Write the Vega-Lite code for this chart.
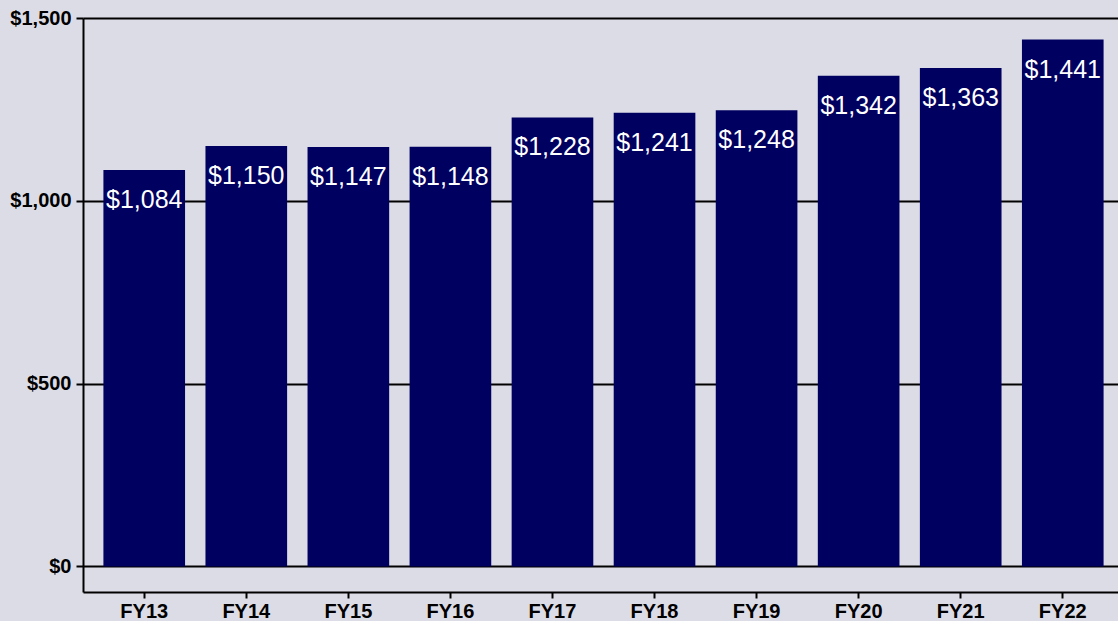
{
  "$schema": "https://vega.github.io/schema/vega-lite/v6.json",
  "width": 1041,
  "height": 574,
  "autosize": "none",
  "padding": {"left": 83, "top": 18, "right": 0, "bottom": 29},
  "background": "#dcdce6",
  "config": {
    "view": {"stroke": null},
    "axis": {
      "labelFont": "Liberation Sans",
      "labelFontWeight": "bold",
      "labelFontSize": 20,
      "labelColor": "#000000",
      "domainColor": "#000000",
      "domainWidth": 2,
      "tickColor": "#000000",
      "tickWidth": 2,
      "tickSize": 7,
      "gridColor": "#000000",
      "gridWidth": 2,
      "gridOpacity": 1,
      "title": null
    }
  },
  "data": {
    "values": [
      {"year": "FY13", "value": 1084},
      {"year": "FY14", "value": 1150},
      {"year": "FY15", "value": 1147},
      {"year": "FY16", "value": 1148},
      {"year": "FY17", "value": 1228},
      {"year": "FY18", "value": 1241},
      {"year": "FY19", "value": 1248},
      {"year": "FY20", "value": 1342},
      {"year": "FY21", "value": 1363},
      {"year": "FY22", "value": 1441}
    ]
  },
  "encoding": {
    "x": {
      "field": "year",
      "type": "ordinal",
      "sort": null,
      "scale": {"paddingInner": 0.2, "paddingOuter": 0.2},
      "axis": {"labelAngle": 0, "labelPadding": 3, "tickSize": 6}
    }
  },
  "layer": [
    {
      "mark": {"type": "bar", "color": "#000060"},
      "encoding": {
        "y": {
          "field": "value",
          "type": "quantitative",
          "scale": {"domain": [-70, 1500], "nice": false, "zero": false},
          "axis": {
            "values": [0, 500, 1000, 1500],
            "format": "$,.0f",
            "grid": true,
            "labelPadding": 5
          }
        },
        "y2": {"datum": 0}
      }
    },
    {
      "mark": {
        "type": "text",
        "color": "#ffffff",
        "font": "Liberation Sans",
        "fontSize": 25,
        "baseline": "middle",
        "dy": 30
      },
      "encoding": {
        "y": {"field": "value", "type": "quantitative"},
        "text": {"field": "value", "type": "quantitative", "format": "$,.0f"}
      }
    }
  ]
}
